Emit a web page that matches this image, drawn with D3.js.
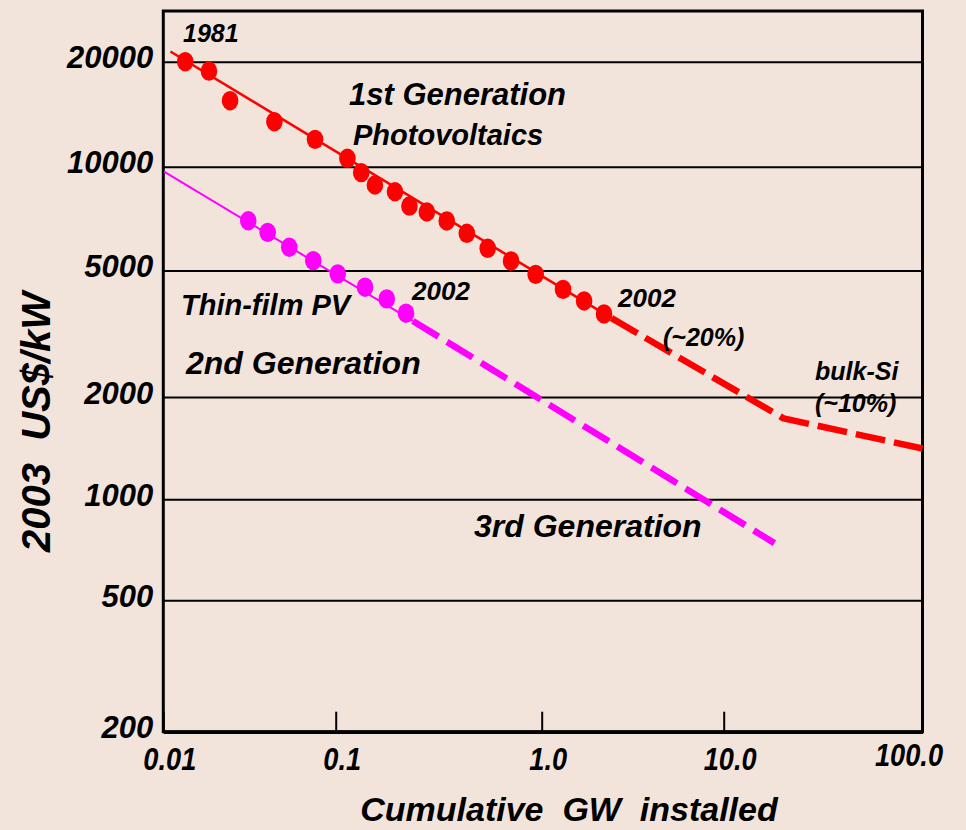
<!DOCTYPE html>
<html>
<head>
<meta charset="utf-8">
<script src="https://cdn.jsdelivr.net/npm/d3@7"></script>
<style>
  body { margin: 0; background: #F2E4DB; }
  svg { display: block; }
  text { font-family: "Liberation Sans", Arial, sans-serif; font-weight: bold; font-style: italic; fill: #000; }
</style>
</head>
<body>
<svg id="chart" width="966" height="830"></svg>
<script>
// ---- Experience curves: module cost vs. cumulative installed capacity ----

// 1st generation (crystalline Si) history, 1981 .. 2002
const gen1Gw   = [0.0134, 0.0184, 0.0244, 0.0441, 0.0759, 0.114, 0.133, 0.155, 0.194, 0.228,
                  0.277, 0.346, 0.433, 0.547, 0.710, 0.935, 1.31, 1.71, 2.20];
const gen1Cost = [20000, 18800, 15460, 13460, 11980, 10570, 9610, 8850, 8460, 7690,
                  7390, 6960, 6410, 5800, 5330, 4860, 4360, 4010, 3650];

// fitted learning line through the history, and the bulk-Si projection
const gen1FitGw    = [0.011, 2.42];
const gen1FitCost  = [21400, 3540];
const gen1ProjGw   = [2.42, 20, 100];
const gen1ProjCost = [3540, 1730, 1410];

// 2nd generation (thin-film) history up to 2002
const thinGw   = [0.0311, 0.0403, 0.0538, 0.0741, 0.1023, 0.1388, 0.1769, 0.2195];
const thinCost = [6970, 6450, 5840, 5340, 4880, 4430, 4070, 3670];

// thin-film learning line and its projection towards 3rd generation
const thinFitGw    = [0.0101, 0.237];
const thinFitCost  = [9670, 3470];
const thinProjGw   = [0.237, 18];
const thinProjCost = [3470, 740];

// axes
const xTicks      = [0.01, 0.1, 1, 10, 100];
const xTickLabels = ["0.01", "0.1", "1.0", "10.0", "100.0"];
const yTicks      = [200, 500, 1000, 2000, 5000, 10000, 20000];
const yTickLabels = ["200", "500", "1000", "2000", "5000", "10000", "20000"];

const RED = "#FF0000", MAGENTA = "#FF00FF";

const svg = d3.select("#chart");
const plot = { left: 163.3, right: 922.5, top: 11, bottom: 731.7 };

// log scales, pinned to each labelled decade / gridline
const x = d3.scaleLog()
  .domain(xTicks)
  .range([plot.left, 335.7, 541.7, 723.7, plot.right]);
const y = d3.scaleLog()
  .domain(yTicks)
  .range([plot.bottom, 600.3, 499.2, 397, 270.5, 166.7, 61.7]);

svg.append("rect").attr("width", 966).attr("height", 830).attr("fill", "#F2E4DB");

// horizontal gridlines + y tick labels
const yAxis = svg.append("g")
  .attr("transform", `translate(${plot.left},0)`)
  .call(d3.axisLeft(y).tickValues(yTicks)
    .tickSize(-(plot.right - plot.left))
    .tickFormat((d, i) => yTickLabels[i]));
yAxis.select(".domain").remove();
yAxis.selectAll(".tick line").attr("stroke", "#000").attr("stroke-width", 2);
yAxis.selectAll(".tick text")
  .attr("x", -10).attr("dy", "0.2em")
  .style("font-size", "31px").attr("fill", "#000");

// frame
svg.append("rect")
  .attr("x", plot.left).attr("y", plot.top)
  .attr("width", plot.right - plot.left).attr("height", plot.bottom - plot.top)
  .attr("fill", "none").attr("stroke", "#000").attr("stroke-width", 3);

// bottom axis with inward ticks; labels set in a condensed face
const narrow = 0.85;
const xAxis = svg.append("g")
  .attr("transform", `translate(0,${plot.bottom})`)
  .call(d3.axisBottom(x).tickValues(xTicks).tickSize(-20).tickSizeOuter(0)
    .tickFormat((d, i) => xTickLabels[i]));
xAxis.select(".domain").attr("stroke", "#000").attr("stroke-width", 3.5);
xAxis.selectAll(".tick line").attr("stroke", "#000").attr("stroke-width", 2);
xAxis.selectAll(".tick text")
  .attr("transform", `scale(${narrow},1)`)
  .attr("y", 38).attr("dy", 0)
  .attr("dx", 6 / narrow)
  .style("font-size", "32px").attr("fill", "#000");
// keep the last label inside the page edge
xAxis.selectAll(".tick text").filter((d, i) => i === xTicks.length - 1)
  .attr("text-anchor", "end").attr("dx", 20 / narrow).attr("y", 34);

// line helpers
const line = d3.line().x(d => x(d[0])).y(d => y(d[1]));
const pairs = (xs, ys) => xs.map((v, i) => [v, ys[i]]);

// fitted learning lines (solid, thin)
svg.append("path").attr("d", line(pairs(gen1FitGw, gen1FitCost)))
  .attr("fill", "none").attr("stroke", RED).attr("stroke-width", 2.5);
svg.append("path").attr("d", line(pairs(thinFitGw, thinFitCost)))
  .attr("fill", "none").attr("stroke", MAGENTA).attr("stroke-width", 2);

// projections (heavy dashes)
svg.append("path").attr("d", line(pairs(gen1ProjGw, gen1ProjCost)))
  .attr("fill", "none").attr("stroke", RED).attr("stroke-width", 6.5)
  .attr("stroke-dasharray", "30 9").attr("stroke-linejoin", "round");
svg.append("path").attr("d", line(pairs(thinProjGw, thinProjCost)))
  .attr("fill", "none").attr("stroke", MAGENTA).attr("stroke-width", 6.5)
  .attr("stroke-dasharray", "30 10");

// historical points
svg.append("g").selectAll("ellipse").data(pairs(gen1Gw, gen1Cost)).join("ellipse")
  .attr("cx", d => x(d[0])).attr("cy", d => y(d[1]))
  .attr("rx", 8.3).attr("ry", 9.7).attr("fill", RED);
svg.append("g").selectAll("ellipse").data(pairs(thinGw, thinCost)).join("ellipse")
  .attr("cx", d => x(d[0])).attr("cy", d => y(d[1]))
  .attr("rx", 8.3).attr("ry", 9.7).attr("fill", MAGENTA);

// annotations
const notes = [
  { t: "1981", x: 183, y: 42, s: 25 },
  { t: "1st Generation", x: 349, y: 105, s: 31 },
  { t: "Photovoltaics", x: 353, y: 145, s: 29 },
  { t: "2002", x: 412, y: 300, s: 26 },
  { t: "2002", x: 618, y: 307, s: 26 },
  { t: "Thin-film PV", x: 181, y: 315, s: 29 },
  { t: "2nd Generation", x: 186, y: 374, s: 32 },
  { t: "3rd Generation", x: 474, y: 537, s: 32 },
  { t: "(~20%)", x: 663, y: 346, s: 25 },
  { t: "bulk-Si", x: 815, y: 380, s: 25 },
  { t: "(~10%)", x: 815, y: 412, s: 25 }
];
svg.append("g").selectAll("text").data(notes).join("text")
  .attr("x", d => d.x).attr("y", d => d.y)
  .style("font-size", d => d.s + "px")
  .text(d => d.t);

// axis titles
svg.append("text")
  .attr("x", 569).attr("y", 821)
  .attr("text-anchor", "middle")
  .style("font-size", "34px").style("white-space", "pre")
  .text("Cumulative  GW  installed");
svg.append("text")
  .attr("transform", "translate(50,422) rotate(-90)")
  .attr("text-anchor", "middle")
  .style("font-size", "40px").style("white-space", "pre")
  .text("2003  US$/kW");
</script>
</body>
</html>
